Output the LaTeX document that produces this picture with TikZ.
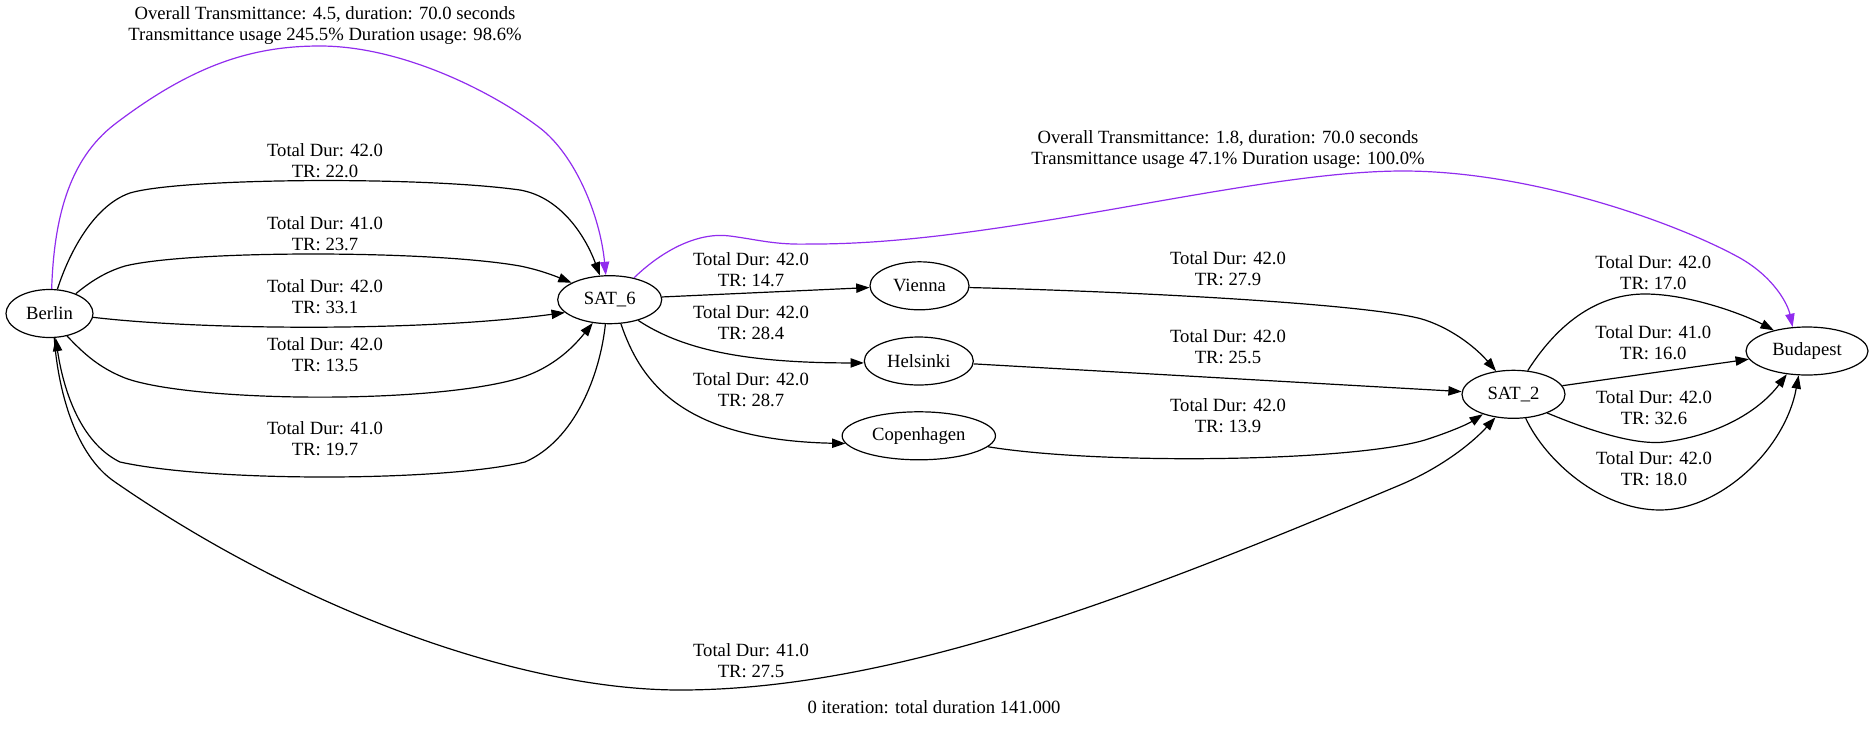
\documentclass[tikz,border=0pt]{standalone}
\usepackage{fontspec}
\setmainfont{Liberation Serif}
\usetikzlibrary{shapes.geometric,arrows.meta}
\definecolor{gvpurple}{RGB}{145,44,238}
\begin{document}
\begin{tikzpicture}[x=0.75pt,y=-0.75pt,
  city/.style={draw, ellipse, line width=0.9pt, inner sep=0pt, minimum height=36pt, font=\fontsize{14}{16}\selectfont},
  edge/.style={draw, line width=0.9pt, -{Triangle[length=10pt,width=7pt]}},
  pedge/.style={edge, draw=gvpurple},
  plain/.style={draw, line width=0.9pt},
  lbl/.style={align=center, font=\fontsize{14}{15.6}\selectfont, inner sep=0pt},
]
\useasboundingbox (0,0) rectangle (1875,729);

% nodes
\node[city, minimum width=65.25pt] (Berlin) at (49.5,313.5) {Berlin};
\node[city, minimum width=78pt] (SAT6) at (609.7,299.7) {SAT\_6};
\node[city, minimum width=74.25pt] (Vienna) at (919.5,285.8) {Vienna};
\node[city, minimum width=81.75pt] (Helsinki) at (918.8,361) {Helsinki};
\node[city, minimum width=115pt] (Copenhagen) at (918.8,435.8) {Copenhagen};
\node[city, minimum width=77.25pt] (SAT2) at (1513.5,394.3) {SAT\_2};
\node[city, minimum width=91.5pt] (Budapest) at (1807,351) {Budapest};

% purple overall paths
\draw[pedge] (Berlin.85) .. controls (54,220) and (68,160) .. (115,124)
  .. controls (195,63) and (255,46) .. (320,46)
  .. controls (400,46) and (490,90) .. (540,128)
  .. controls (575,155) and (600,215) .. (SAT6.99);
\node[lbl] (lp1) at (325,25.5) {Overall Transmittance: 4.5, duration: 70.0 seconds\\Transmittance usage 245.5\% Duration usage: 98.6\%};

\draw[pedge] (SAT6.42) .. controls (665,248) and (700,232) .. (730,236)
  .. controls (760,240) and (775,245) .. (810,244)
  .. controls (1000,245) and (1250,171) .. (1403,171)
  .. controls (1530,171) and (1675,222) .. (1740,258)
  .. controls (1775,278) and (1788,305) .. (Budapest.121);
\node[lbl] (lp2) at (1228,149.6) {Overall Transmittance: 1.8, duration: 70.0 seconds\\Transmittance usage 47.1\% Duration usage: 100.0\%};

% Berlin -> SAT_6
\draw[edge] (Berlin.72) .. controls (70,250) and (95,205) .. (130,193)
  .. controls (180,178) and (420,176) .. (520,190)
  .. controls (560,197) and (585,235) .. (SAT6.112);
\node[lbl] (l1) at (325,160.8) {Total Dur: 42.0\\TR: 22.0};

\draw[edge] (Berlin.37) .. controls (90,282) and (105,272) .. (125,266)
  .. controls (190,250) and (430,250) .. (520,266)
  .. controls (540,270) and (555,276) .. (SAT6.156);
\node[lbl] (l2) at (325,233.8) {Total Dur: 41.0\\TR: 23.7};

\draw[edge] (Berlin.-5) .. controls (200,330) and (420,332) .. (SAT6.196);
\node[lbl] (l3) at (325,296.3) {Total Dur: 42.0\\TR: 33.1};

\draw[edge] (Berlin.-52) .. controls (85,355) and (100,368) .. (125,378)
  .. controls (190,402) and (430,405) .. (520,378)
  .. controls (555,367) and (575,345) .. (SAT6.234);
\node[lbl] (l4) at (325,354.7) {Total Dur: 42.0\\TR: 13.5};

% SAT_6 -> Berlin
\draw[edge] (SAT6.260) .. controls (600,375) and (575,440) .. (525,462)
  .. controls (440,482) and (210,482) .. (120,462)
  .. controls (85,445) and (65,400) .. (Berlin.-76);
\node[lbl] (l5) at (325,438.3) {Total Dur: 41.0\\TR: 19.7};

% Berlin -> SAT_2 (long)
\draw[edge] (Berlin.-79) .. controls (58,390) and (75,455) .. (115,482)
  .. controls (300,610) and (520,690) .. (680,690)
  .. controls (900,690) and (1150,590) .. (1400,485)
  .. controls (1445,466) and (1475,440) .. (SAT2.232);
\node[lbl] (l6) at (751,660.8) {Total Dur: 41.0\\TR: 27.5};

% SAT_6 -> cities
\draw[edge] (SAT6.3) -- (Vienna.182);
\node[lbl] (l7) at (751,270) {Total Dur: 42.0\\TR: 14.7};

\draw[edge] (SAT6.-36) .. controls (680,348) and (740,363) .. (Helsinki.182);
\node[lbl] (l8) at (751,322.5) {Total Dur: 42.0\\TR: 28.4};

\draw[edge] (SAT6.-65) .. controls (640,380) and (680,440) .. (Copenhagen.186);
\node[lbl] (l9) at (751,389.5) {Total Dur: 42.0\\TR: 28.7};

% cities -> SAT_2
\draw[edge] (Vienna.-2) .. controls (1150,292) and (1380,305) .. (1425,320)
  .. controls (1455,330) and (1478,350) .. (SAT2.127);
\node[lbl] (l10) at (1228,268.8) {Total Dur: 42.0\\TR: 27.9};

\draw[edge] (Helsinki.-3) -- (SAT2.177);
\node[lbl] (l11) at (1228,346.4) {Total Dur: 42.0\\TR: 25.5};

\draw[edge] (Copenhagen.-9) .. controls (1100,465) and (1350,462) .. (1425,440)
  .. controls (1450,432) and (1468,424) .. (SAT2.213);
\node[lbl] (l12) at (1228,416) {Total Dur: 42.0\\TR: 13.9};

% SAT_2 -> Budapest
\draw[edge] (SAT2.59) .. controls (1560,320) and (1600,294) .. (1645,294)
  .. controls (1690,294) and (1745,315) .. (Budapest.148);
\node[lbl] (l13) at (1653.3,272.8) {Total Dur: 42.0\\TR: 17.0};

\draw[edge] (SAT2.10) -- (Budapest.188);
\node[lbl] (l14) at (1653.3,342.8) {Total Dur: 41.0\\TR: 16.0};

\draw[edge] (SAT2.-29) .. controls (1600,435) and (1640,445) .. (1665,442)
  .. controls (1720,435) and (1760,410) .. (Budapest.229);
\node[lbl] (l15) at (1654,407.5) {Total Dur: 42.0\\TR: 32.6};

\draw[edge] (SAT2.-63) .. controls (1545,460) and (1600,510) .. (1660,510)
  .. controls (1720,510) and (1785,450) .. (Budapest.251);
\node[lbl] (l16) at (1654,468.8) {Total Dur: 42.0\\TR: 18.0};

% footer
\node[lbl] (footer) at (934,706.7) {0 iteration: total duration 141.000};
\end{tikzpicture}
\end{document}
